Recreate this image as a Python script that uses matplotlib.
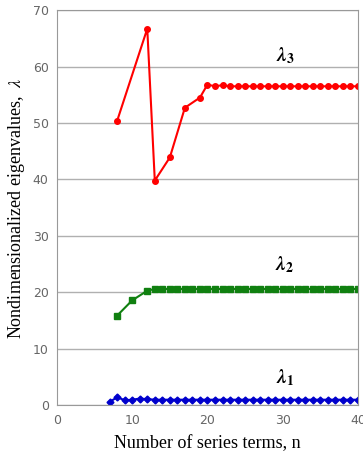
import numpy as np
import matplotlib.pyplot as plt

plt.rcParams['mathtext.fontset'] = 'stix'

# eigenvalues
n1 = [7, 8] + list(range(9, 41))
lam1 = [0.6, 1.45, 0.9, 1.0, 1.2, 1.1] + [1.0] * 28

n2 = [8, 10, 12] + list(range(13, 41))
lam2 = [15.9, 18.6, 20.3] + [20.6] * 28

n3 = [8, 12, 13, 15, 17, 19, 20] + list(range(21, 41))
lam3 = [50.4, 66.7, 39.8, 43.9, 52.7, 54.5, 56.8, 56.5, 56.7] + [56.5] * 18

fig = plt.figure(figsize=(3.63, 4.57), dpi=100)
ax = fig.add_axes([0.157, 0.113, 0.829, 0.865])

ax.plot(n1, lam1, color='#0000cc', marker='D', markersize=3.5, lw=1.5)
ax.plot(n2, lam2, color='#108010', marker='s', markersize=3.8, lw=1.5)
ax.plot(n3, lam3, color='#ff0000', marker='o', markersize=4, lw=1.5)

ax.set_xlim(0, 40)
ax.set_ylim(0, 70)
ax.set_xticks(range(0, 41, 10))
ax.set_yticks(range(0, 71, 10))
ax.yaxis.grid(True, color='#b0b0b0', lw=1)
ax.set_axisbelow(True)
ax.tick_params(length=0, labelsize=9, labelcolor='#666666', pad=6)
for s in ax.spines.values():
    s.set_color('#999999')

serif = 'Liberation Serif'
ax.set_xlabel('Number of series terms, n', family=serif, fontsize=13, labelpad=6)
ax.set_ylabel(r'Nondimensionalized eigenvalues,  $\lambda$', family=serif, fontsize=13, labelpad=4)

# curve labels
for sub, y in [('3', 62.0), ('2', 25.0), ('1', 4.9)]:
    ax.text(30.3, y, r'$\mathbfit{\lambda}_{\mathbf{' + sub + '}}$', fontsize=14, ha='center', va='center')

fig.savefig('out.png', dpi=100)
